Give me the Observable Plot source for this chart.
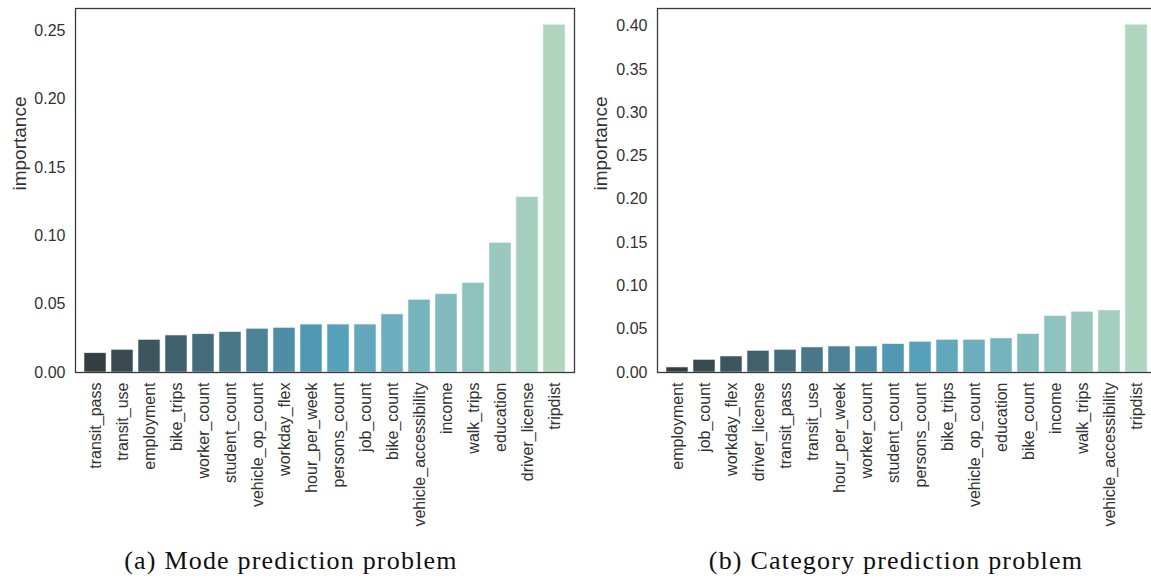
<!DOCTYPE html>
<html>
<head>
<meta charset="utf-8">
<script src="https://cdn.jsdelivr.net/npm/d3@7"></script>
<script src="https://cdn.jsdelivr.net/npm/@observablehq/plot@0.6"></script>
<style>
  html, body { margin: 0; padding: 0; background: #fff; overflow: hidden; }
  #wrap { position: relative; width: 1151px; height: 582px; overflow: hidden; }
  .panel { position: absolute; top: 0; width: 600px; }
  .panel svg { max-width: none !important; }
  .caption { position: absolute; top: 546px; width: 500px; text-align: center;
    font-family: "Liberation Serif", "DejaVu Serif", serif; font-size: 26px; letter-spacing: 1.2px;
    color: #111; white-space: nowrap; }
</style>
</head>
<body>
<div id="wrap">
  <div class="panel" id="left" style="left:0px"></div>
  <div class="panel" id="right" style="left:580px"></div>
  <div class="caption" id="capA" style="left:41px"></div>
  <div class="caption" id="capB" style="left:646px"></div>
</div>
<script>
// ---- data (a) Mode prediction problem ----
const modeFeatures = ["transit_pass","transit_use","employment","bike_trips","worker_count","student_count",
  "vehicle_op_count","workday_flex","hour_per_week","persons_count","job_count","bike_count",
  "vehicle_accessibility","income","walk_trips","education","driver_license","tripdist"];
const modeImportance = [0.0141,0.0166,0.0239,0.0271,0.0280,0.0295,0.0320,0.0327,0.0351,0.0351,0.0351,0.0425,
  0.0532,0.0573,0.0654,0.0949,0.1283,0.2545];
const modeTicks = [0, 0.05, 0.10, 0.15, 0.20, 0.25];

// ---- data (b) Category prediction problem ----
const catFeatures = ["employment","job_count","workday_flex","driver_license","transit_pass","transit_use",
  "hour_per_week","worker_count","student_count","persons_count","bike_trips","vehicle_op_count",
  "education","bike_count","income","walk_trips","vehicle_accessibility","tripdist"];
const catImportance = [0.0058,0.0146,0.0185,0.0250,0.0262,0.0289,0.0300,0.0300,0.0327,0.0354,0.0377,0.0377,
  0.0393,0.0442,0.0650,0.0700,0.0716,0.4015];
const catTicks = [0, 0.05, 0.10, 0.15, 0.20, 0.25, 0.30, 0.35, 0.40];

const yLabel = "importance";
const captionA = "(a) Mode prediction problem";
const captionB = "(b) Category prediction problem";

function chart(features, values, ticks, ymax, marginLeft, marginRight, labelDx) {
  const data = features.map((f, i) => ({feature: f, importance: values[i], rank: i}));
  const plotW = 499;
  return Plot.plot({
    width: marginLeft + plotW + marginRight,
    height: 532,
    marginLeft, marginRight, marginTop: 8, marginBottom: 160,
    style: {fontFamily: "'Liberation Sans', Arial, sans-serif", fontSize: "16px", color: "#333", background: "white"},
    x: {domain: features, paddingInner: 0.2, paddingOuter: 0.1, label: null},
    y: {domain: [0, ymax], label: null},
    color: {type: "linear", domain: [0, 4, 8.5, 12, 17],
            range: ["#343d41", "#446c7a", "#539ebc", "#76b4bd", "#b0d6c0"]},
    marks: [
      Plot.barY(data, {x: "feature", y: "importance", fill: "rank", stroke: "#e8f2ee", strokeWidth: 0.6}),
      Plot.frame({stroke: "#3a3a3a", strokeWidth: 1.3}),
      Plot.axisX({tickSize: 0, tickPadding: 10, tickRotate: -90, label: null, fontSize: 16}),
      Plot.axisY({ticks, tickFormat: d3.format(".2f"), tickSize: 0, tickPadding: 10, fontSize: 16, label: null}),
      Plot.text([yLabel], {frameAnchor: "left", rotate: -90, dx: labelDx, fontSize: 19, fill: "#333"})
    ]
  });
}

const left = chart(modeFeatures, modeImportance, modeTicks, 0.2665, 75, 6, -56);
document.getElementById("left").appendChild(left);
const right = chart(catFeatures, catImportance, catTicks, 0.4203, 77, 5, -57);
document.getElementById("right").appendChild(right);
document.getElementById("capA").textContent = captionA;
document.getElementById("capB").textContent = captionB;
</script>
</body>
</html>
